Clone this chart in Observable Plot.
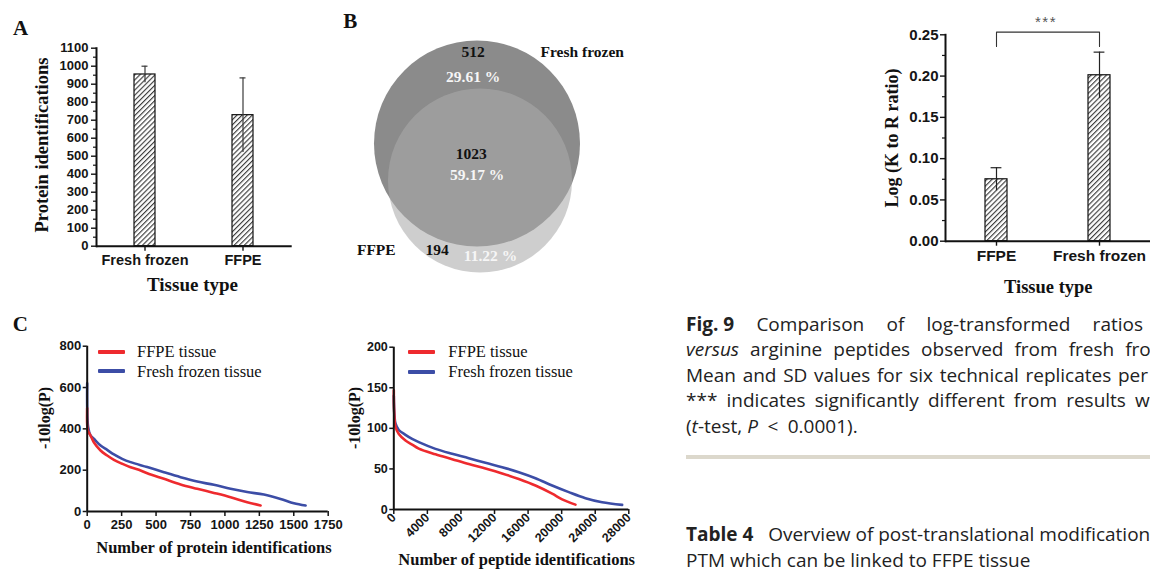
<!DOCTYPE html>
<html><head><meta charset="utf-8">
<script src="https://cdn.jsdelivr.net/npm/d3@7"></script>
<script src="https://cdn.jsdelivr.net/npm/@observablehq/plot@0.6"></script>
<style>
html,body{margin:0;padding:0;background:#fff;}
#page{position:relative;width:1150px;height:569px;overflow:hidden;background:#fff;}
#page svg{position:absolute;overflow:visible;}
.lab{position:absolute;white-space:nowrap;line-height:1;font-family:"Liberation Serif","Times New Roman",serif;font-weight:bold;color:#111;}
.cap{position:absolute;left:686px;font-family:"Open Sans","Noto Sans",sans-serif;font-size:19px;line-height:25px;color:#222;white-space:nowrap;}
.just{text-align:justify;text-align-last:justify;}
.nb{display:inline-block;}
.sw{position:absolute;height:4px;width:27px;border-radius:1px;}
</style></head>
<body><div id="page"></div>
<script>
// ---------- data ----------
// A: protein identifications
const tissueA = ["Fresh frozen", "FFPE"];
const proteinMean = [954, 728];
const proteinSD = [46, 207];
// right panel: log(K to R ratio)
const tissueK = ["FFPE", "Fresh frozen"];
const krMean = [0.075, 0.201];
const krSD = [0.014, 0.028];
// B: Venn
const vennRegions = ["Fresh frozen only", "Both", "FFPE only"];
const vennCounts = [512, 1023, 194];
const vennPercents = ["29.61 %", "59.17 %", "11.22 %"];
// C: protein score curves
const protRankFFPE  = [0, 5, 24, 48, 97, 145, 194, 254, 315, 375, 436, 557, 678, 799, 920, 1041, 1162, 1259];
const protScoreFFPE = [500, 392, 368, 335, 295, 271, 250, 231, 214, 202, 185, 158, 131, 110, 90, 69, 45, 29];
const protRankFF    = [0, 7, 24, 48, 97, 145, 194, 254, 315, 436, 557, 678, 799, 920, 1041, 1162, 1283, 1404, 1501, 1586];
const protScoreFF   = [620, 408, 368, 352, 319, 298, 276, 255, 239, 215, 190, 166, 145, 129, 110, 94, 82, 61, 40, 29];
// C: peptide score curves
const pepRankFFPE  = [0, 40, 199, 596, 1390, 2184, 2979, 4965, 6950, 8936, 10922, 12908, 14894, 16880, 18866, 20057, 21646];
const pepScoreFFPE = [147, 122, 102, 93, 85, 80, 75, 68, 62, 56, 50.5, 44.5, 37.5, 29.5, 19.5, 12.5, 6];
const pepRankFF    = [0, 79, 199, 596, 1390, 2184, 2979, 4965, 6950, 8936, 10922, 12908, 14894, 16880, 18866, 20851, 22836, 24822, 27208];
const pepScoreFF   = [140, 116, 106, 98, 92, 87, 83, 74.7, 68.6, 63.2, 57.5, 52.2, 46, 38.6, 29.6, 21.4, 14, 9, 5.7];

// ---------- styles / layout ----------
const RED = "#ee2a2e", BLUE = "#3c4da6";
const page = document.getElementById("page");
const tickStyle = (size) => ({fontFamily: "'Liberation Sans', Arial, sans-serif", fontWeight: "bold", fontSize: size + "px", color: "#151515", background: "transparent", overflow: "visible"});

function put(svg, left, top) { svg.style.left = left + "px"; svg.style.top = top + "px"; page.appendChild(svg); return svg; }
function label(html, cx, cy, size, opts = {}) {
  const d = document.createElement("div");
  d.className = "lab";
  d.innerHTML = html;
  d.style.fontSize = size + "px";
  d.style.left = cx + "px"; d.style.top = cy + "px";
  const anchor = opts.anchor === "start" ? "0" : "-50%";
  d.style.transform = opts.rotate ? "translate(-50%,-50%) rotate(-90deg)" : `translate(${anchor},-50%)`;
  if (opts.weight) d.style.fontWeight = opts.weight;
  if (opts.color) d.style.color = opts.color;
  if (opts.family) d.style.fontFamily = opts.family;
  if (opts.ls) d.style.letterSpacing = opts.ls;
  page.appendChild(d);
  return d;
}
function hatch(svg, id) {
  d3.select(svg).insert("defs", ":first-child").html(
    `<pattern id="${id}" patternUnits="userSpaceOnUse" width="3.6" height="3.6" patternTransform="rotate(45)">
       <rect width="3.6" height="3.6" fill="#fff"/>
       <line x1="0.6" y1="0" x2="0.6" y2="3.6" stroke="#2a2a2a" stroke-width="1.05"/>
     </pattern>`);
}

// ---------- Panel A ----------
const dataA = tissueA.map((t, i) => ({tissue: t, mean: proteinMean[i], sd: proteinSD[i]}));
const plotA = Plot.plot({
  width: 300, height: 300,
  marginLeft: 96, marginRight: 8.3, marginTop: 47.7, marginBottom: 54.3,
  style: tickStyle(13),
  x: {domain: tissueA, paddingInner: 0.785, paddingOuter: 0.39, label: null},
  y: {domain: [0, 1100], label: null},
  marks: [
    Plot.barY(dataA, {x: "tissue", y: "mean", fill: "url(#hatchA)", stroke: "#111", strokeWidth: 1.2}),
    Plot.ruleX(dataA, {x: "tissue", y1: d => d.mean - d.sd, y2: d => d.mean + d.sd, stroke: "#3a3a3a", strokeWidth: 1.2}),
    Plot.tickY(dataA, {x: "tissue", y: d => d.mean + d.sd, inset: 7.5, stroke: "#3a3a3a", strokeWidth: 1.2}),
    Plot.axisY({ticks: d3.range(0, 1101, 100), tickSize: 5, tickPadding: 3, tickFormat: "d", fontSize: 13, strokeWidth: 1.4}),
    Plot.axisY({ticks: d3.range(50, 1100, 100), tickSize: 3, tickFormat: () => "", strokeWidth: 1.2}),
    Plot.axisX({tickSize: 5, tickPadding: 4, fontSize: 14.5, strokeWidth: 1.4}),
    Plot.ruleY([0], {stroke: "#111", strokeWidth: 2}),
    Plot.frame({anchor: "left", stroke: "#111", strokeWidth: 2})
  ]
});
hatch(plotA, "hatchA");
put(plotA, 0, 0);

// ---------- Panel K/R ----------
const dataK = tissueK.map((t, i) => ({tissue: t, mean: krMean[i], sd: krSD[i]}));
const bracket = [
  {tissue: tissueK[0], v: 0.2358}, {tissue: tissueK[0], v: 0.2532},
  {tissue: tissueK[1], v: 0.2532}, {tissue: tissueK[1], v: 0.2358}
];
const plotK = Plot.plot({
  width: 290, height: 300,
  marginLeft: 85, marginRight: 0, marginTop: 34.3, marginBottom: 59.3,
  style: tickStyle(15),
  x: {domain: tissueK, paddingInner: 0.786, paddingOuter: 0.379, label: null},
  y: {domain: [0, 0.25], label: null},
  marks: [
    Plot.barY(dataK, {x: "tissue", y: "mean", fill: "url(#hatchK)", stroke: "#111", strokeWidth: 1.2}),
    Plot.ruleX(dataK, {x: "tissue", y1: d => d.mean - d.sd, y2: d => d.mean + d.sd, stroke: "#222", strokeWidth: 1.2}),
    Plot.tickY(dataK, {x: "tissue", y: d => d.mean + d.sd, inset: 5.6, stroke: "#222", strokeWidth: 1.2}),
    Plot.line(bracket, {x: "tissue", y: "v", stroke: "#333", strokeWidth: 1.1}),
    Plot.axisY({ticks: [0, 0.05, 0.1, 0.15, 0.2, 0.25], tickSize: 5, tickPadding: 2, tickFormat: ".2f", fontSize: 15, strokeWidth: 1.4}),
    Plot.axisY({ticks: [0.025, 0.075, 0.125, 0.175, 0.225], tickSize: 3, tickFormat: () => "", strokeWidth: 1.2}),
    Plot.axisX({tickSize: 5, tickPadding: 4, fontSize: 15.5, strokeWidth: 1.4}),
    Plot.ruleY([0], {stroke: "#111", strokeWidth: 2}),
    Plot.frame({anchor: "left", stroke: "#111", strokeWidth: 2})
  ]
});
hatch(plotK, "hatchK");
put(plotK, 860, 0);

// ---------- Panel B (Venn) ----------
const vennLayout = {
  circles: [
    {set: "Fresh frozen", cx: 136.5, cy: 143, r: 103, fill: "#8b8b8b", opacity: 1},
    {set: "FFPE", cx: 139.5, cy: 180, r: 92, fill: "#ababab", opacity: 0.58}
  ],
  countPos: [[132.7, 51.7], [130.7, 153.3], [96.5, 250]],
  pctPos: [[132.7, 76.7], [136.7, 174.3], [150, 256]],
  setPos: [[241.7, 51.7], [35.8, 250]]
};
const countData = vennRegions.map((r, i) => ({region: r, n: vennCounts[i], x: vennLayout.countPos[i][0], y: vennLayout.countPos[i][1]}));
const pctData = vennRegions.map((r, i) => ({region: r, p: vennPercents[i], x: vennLayout.pctPos[i][0], y: vennLayout.pctPos[i][1]}));
const setData = ["Fresh frozen", "FFPE"].map((s, i) => ({s, x: vennLayout.setPos[i][0], y: vennLayout.setPos[i][1]}));
const vennFont = {fontFamily: "'Liberation Serif', 'Times New Roman', serif", fontWeight: "bold", fontSize: 15.5};
const plotB = Plot.plot({
  width: 320, height: 300, margin: 0,
  style: {background: "transparent", overflow: "visible"},
  x: {domain: [0, 320], range: [0, 320], axis: null},
  y: {domain: [0, 300], range: [0, 300], axis: null},
  r: {type: "identity"},
  marks: [
    Plot.dot([vennLayout.circles[0]], {x: "cx", y: "cy", r: "r", fill: vennLayout.circles[0].fill, stroke: null}),
    Plot.dot([vennLayout.circles[1]], {x: "cx", y: "cy", r: "r", fill: vennLayout.circles[1].fill, fillOpacity: vennLayout.circles[1].opacity, stroke: null}),
    Plot.text(countData, {x: "x", y: "y", text: d => String(d.n), fill: "#111", ...vennFont}),
    Plot.text(pctData, {x: "x", y: "y", text: "p", fill: "#f6f6f6", ...vennFont}),
    Plot.text(setData, {x: "x", y: "y", text: "s", fill: "#111", ...vennFont})
  ]
});
put(plotB, 340, 0);

// ---------- Panel C ----------
const toPts = (xs, ys) => xs.map((x, i) => ({x, y: ys[i]}));
const plotC1 = Plot.plot({
  width: 345, height: 239,
  marginLeft: 86.7, marginRight: 17.3, marginTop: 15.7, marginBottom: 58,
  style: tickStyle(13),
  x: {domain: [0, 1750], label: null},
  y: {domain: [0, 800], label: null},
  marks: [
    Plot.axisY({ticks: [0, 200, 400, 600, 800], tickSize: 4, tickPadding: 2, tickFormat: "d", strokeWidth: 1.5}),
    Plot.axisX({ticks: d3.range(0, 1751, 250), tickSize: 5, tickPadding: 3, tickFormat: "d", strokeWidth: 1.5}),
    Plot.line(toPts(protRankFF, protScoreFF), {x: "x", y: "y", stroke: BLUE, strokeWidth: 2.6, curve: "catmull-rom"}),
    Plot.line(toPts(protRankFFPE, protScoreFFPE), {x: "x", y: "y", stroke: RED, strokeWidth: 2.6, curve: "catmull-rom"}),
    Plot.ruleY([0], {stroke: "#111", strokeWidth: 2}),
    Plot.ruleX([0], {stroke: "#111", strokeWidth: 2})
  ]
});
put(plotC1, 0, 330);

const plotC2 = Plot.plot({
  width: 300, height: 239,
  marginLeft: 53.3, marginRight: 11.7, marginTop: 16.7, marginBottom: 60,
  style: tickStyle(12.5),
  x: {domain: [0, 28000], label: null},
  y: {domain: [0, 200], label: null},
  marks: [
    Plot.axisY({ticks: [0, 50, 100, 150, 200], tickSize: 4, tickPadding: 2, tickFormat: "d", strokeWidth: 1.5}),
    Plot.axisX({ticks: d3.range(0, 28001, 4000), tickSize: 5, tickPadding: 1, tickRotate: -45, tickFormat: "d", strokeWidth: 1.5}),
    Plot.line(toPts(pepRankFF, pepScoreFF), {x: "x", y: "y", stroke: BLUE, strokeWidth: 2.6, curve: "catmull-rom"}),
    Plot.line(toPts(pepRankFFPE, pepScoreFFPE), {x: "x", y: "y", stroke: RED, strokeWidth: 2.6, curve: "catmull-rom"}),
    Plot.ruleY([0], {stroke: "#111", strokeWidth: 2}),
    Plot.ruleX([0], {stroke: "#111", strokeWidth: 2})
  ]
});
put(plotC2, 340, 330);

// ---------- labels ----------
label("A", 13, 27.5, 21, {anchor: "start"});
label("B", 343.3, 21, 21, {anchor: "start"});
label("C", 12.7, 324, 21, {anchor: "start"});
label("Protein identifications", 41.7, 145, 18.5, {rotate: true});
label("Tissue type", 192.5, 284, 19);
label("Log (K to R ratio)", 891.7, 137.5, 18, {rotate: true});
label("Tissue type", 1048.3, 286.5, 18.5);
label("***", 1046, 21, 15, {family: "'Liberation Sans', Arial, sans-serif", weight: "normal", color: "#555", ls: "1.5px"});
label("-10log(P)", 45, 417.5, 16, {rotate: true});
label("Number of protein identifications", 214, 548, 16.5);
label("-10log(P)", 355, 418, 16, {rotate: true});
label("Number of peptide identifications", 516.7, 559.5, 16.5);

// legends
function swatch(color, left, cy) {
  const d = document.createElement("div"); d.className = "sw";
  d.style.background = color; d.style.left = left + "px"; d.style.top = (cy - 2) + "px";
  page.appendChild(d);
}
swatch(RED, 97.7, 351.7); swatch(BLUE, 97.7, 371.2);
label("FFPE tissue", 137, 352, 16.5, {anchor: "start", weight: "normal"});
label("Fresh frozen tissue", 137, 371.5, 16.5, {anchor: "start", weight: "normal"});
swatch(RED, 408.3, 351.7); swatch(BLUE, 408.3, 371.7);
label("FFPE tissue", 448.3, 352, 16.5, {anchor: "start", weight: "normal"});
label("Fresh frozen tissue", 448.3, 372, 16.5, {anchor: "start", weight: "normal"});

// ---------- caption text ----------
function cap(html, top, width) {
  const d = document.createElement("div");
  d.className = "cap" + (width ? " just" : "");
  if (width) d.style.width = width + "px";
  d.style.top = top + "px";
  d.innerHTML = html;
  page.appendChild(d);
}
cap('<b class="nb">Fig. 9</b> Comparison of log-transformed ratios', 311.5, 457);
cap("<i>versus</i> arginine peptides observed from fresh frozen", 337, 496);
cap("Mean and SD values for six technical replicates per", 362.5, 462);
cap("*** indicates significantly different from results with", 388, 487);
cap('(<i>t</i>-test, <i>P</i>&ensp;&lt;&ensp;0.0001).', 413.5);
const rule = document.createElement("div");
rule.style.cssText = "position:absolute;left:686px;top:455px;width:470px;height:4px;background:#dcd8cc;";
page.appendChild(rule);
cap('<b>Table 4</b>&nbsp;&nbsp; Overview of post-translational modifications', 521.5);
cap("PTM which can be linked to FFPE tissue", 548);
</script>
</body></html>
